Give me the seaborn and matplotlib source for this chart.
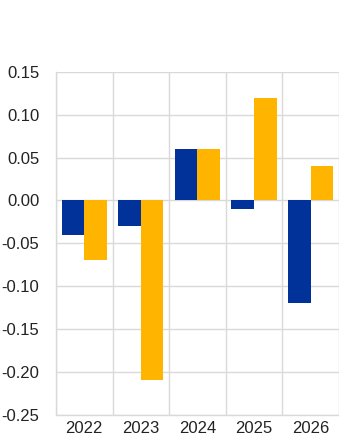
import matplotlib
matplotlib.use("Agg")
import matplotlib.pyplot as plt
import seaborn as sns
import pandas as pd
import numpy as np

years = ["2022", "2023", "2024", "2025", "2026"]
series_a = [-0.04, -0.03, 0.06, -0.01, -0.12]
series_b = [-0.07, -0.21, 0.06, 0.12, 0.04]
yticks = [-0.25, -0.20, -0.15, -0.10, -0.05, 0.00, 0.05, 0.10, 0.15]

df = pd.DataFrame({
    "year": years * 2,
    "value": series_a + series_b,
    "series": ["A"] * len(years) + ["B"] * len(years),
})

sns.set_style("white")
plt.rcParams["font.family"] = ["Liberation Sans", "DejaVu Sans"]

fig = plt.figure(figsize=(3.39, 4.41), dpi=100)
ax = fig.add_axes([0.165, 0.06, 0.835, 0.777])
sns.barplot(data=df, x="year", y="value", hue="series",
            palette=["#003299", "#FFB400"], width=0.8, ax=ax,
            legend=False, saturation=1, linewidth=0)

ax.set_ylim(-0.25, 0.15)
ax.set_yticks(yticks)
ax.set_yticklabels([f"{t:.2f}" for t in yticks])
ax.set_xlim(-0.5, len(years) - 0.5)
ax.set_xticks(np.arange(-0.5, len(years), 1.0), minor=True)
ax.grid(True, axis="y", color="#d9d9d9", linewidth=1)
ax.grid(True, axis="x", which="minor", color="#d9d9d9", linewidth=1)
ax.grid(False, axis="x", which="major")
ax.set_axisbelow(True)
for s in ["top", "right"]:
    ax.spines[s].set_visible(False)
for s in ["left", "bottom"]:
    ax.spines[s].set_color("#d9d9d9")
    ax.spines[s].set_linewidth(1)
ax.tick_params(axis="both", which="both", length=0, labelsize=12, colors="#222222")
ax.tick_params(axis="x", pad=5)
ax.tick_params(axis="y", pad=12)
ax.set_xlabel("")
ax.set_ylabel("")

fig.savefig("out.png", dpi=100)
